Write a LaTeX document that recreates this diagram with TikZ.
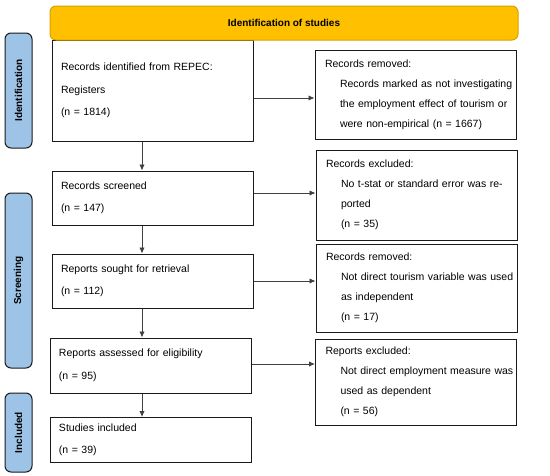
\documentclass[tikz,border=0pt]{standalone}
\usepackage{fontspec}
\setmainfont{Liberation Sans}
\usetikzlibrary{arrows.meta,calc}
\definecolor{orangefill}{HTML}{FFC000}
\definecolor{orangeedge}{HTML}{D9A000}
\definecolor{bluefill}{HTML}{9DC3E6}
\definecolor{darkedge}{HTML}{1A1A1A}
\definecolor{arrowgray}{HTML}{404040}
\begin{document}
\begin{tikzpicture}[x=1pt,y=-1pt,
  leftbox/.style={draw=darkedge,line width=1pt,minimum width=201pt,inner xsep=9pt,text width=183pt,align=left,
     font=\fontsize{10.5}{22.5}\selectfont},
  rightbox/.style={draw=darkedge,line width=1pt,minimum width=201pt,inner xsep=10pt,text width=181pt,align=left,
     font=\fontsize{10.5}{20}\selectfont},
  sidetab/.style={draw=darkedge,fill=bluefill,line width=1pt,rounded corners=6pt,minimum height=27pt,
     font=\bfseries\fontsize{10}{12}\selectfont,rotate=90},
  arr/.style={draw=arrowgray,line width=0.9pt,-{Latex[length=6pt,width=5.5pt]}}]
\useasboundingbox (0,0) rectangle (550,475);
\newcommand{\ind}[1]{\hspace*{15pt}\makebox[166pt][s]{#1}}
\newcommand{\indl}[1]{\hspace*{15pt}#1}
% left boxes
\node[leftbox,minimum height=101pt] (b1) at (152.5,90.5) {Records identified from REPEC:\\Registers\\(n = 1814)};
\node[leftbox,minimum height=54pt] (b2) at (152.5,198) {Records screened\\(n = 147)};
\node[leftbox,minimum height=54pt] (b3) at (152.5,281) {Reports sought for retrieval\\(n = 112)};
\node[leftbox,minimum height=55pt] (b4) at (150.5,365.5) {Reports assessed for eligibility\\(n = 95)};
\node[leftbox,minimum height=45pt] (b5) at (150.5,440) {Studies included\\(n = 39)};
% top bar
\node[draw=orangeedge,fill=orangefill,line width=1pt,rounded corners=6pt,minimum width=468pt,minimum height=34pt,
  font=\bfseries\fontsize{10}{12}\selectfont] (top) at (284,23) {Identification of studies};
% right boxes
\node[rightbox,minimum height=89pt] (r1) at (415.5,94.5) {Records removed:\\\ind{Records marked as not investigating}\\\ind{the employment effect of tourism or}\\\indl{were non-empirical (n = 1667)}};
\node[rightbox,minimum height=90pt] (r2) at (416.5,195) {Records excluded:\\\ind{No t-stat or standard error was re-}\\\indl{ported}\\\indl{(n = 35)}};
\node[rightbox,minimum height=88pt] (r3) at (416.5,288) {Records removed:\\\ind{Not direct tourism variable was used}\\\indl{as independent}\\\indl{(n = 17)}};
\node[rightbox,minimum height=86pt] (r4) at (416,382) {Reports excluded:\\\ind{Not direct employment measure was}\\\indl{used as dependent}\\\indl{(n = 56)}};
% side tabs
\node[sidetab,minimum width=115pt] (t1) at (18.5,90.5) {Identification};
\node[sidetab,minimum width=175pt] (t2) at (18.5,280.5) {Screening};
\node[sidetab,minimum width=79pt] (t3) at (18.5,432.5) {Included};
% arrows
\coordinate (ax) at (142,0);
\draw[arr] (b1.south -| ax) -- (b2.north -| ax);
\draw[arr] (b2.south -| ax) -- (b3.north -| ax);
\draw[arr] (b3.south -| ax) -- (b4.north -| ax);
\draw[arr] (b4.south -| ax) -- (b5.north -| ax);
\draw[arr] ([yshift=-7.5pt]b1.east) -- ([yshift=-7.5pt]b1.east -| r1.west);
\draw[arr] ([yshift=5pt]b2.east) -- ([yshift=5pt]b2.east -| r2.west);
\draw[arr] (b3.east) -- (b3.east -| r3.west);
\draw[arr] ([yshift=1.5pt]b4.east) -- ([yshift=1.5pt]b4.east -| r4.west);
\end{tikzpicture}
\end{document}
